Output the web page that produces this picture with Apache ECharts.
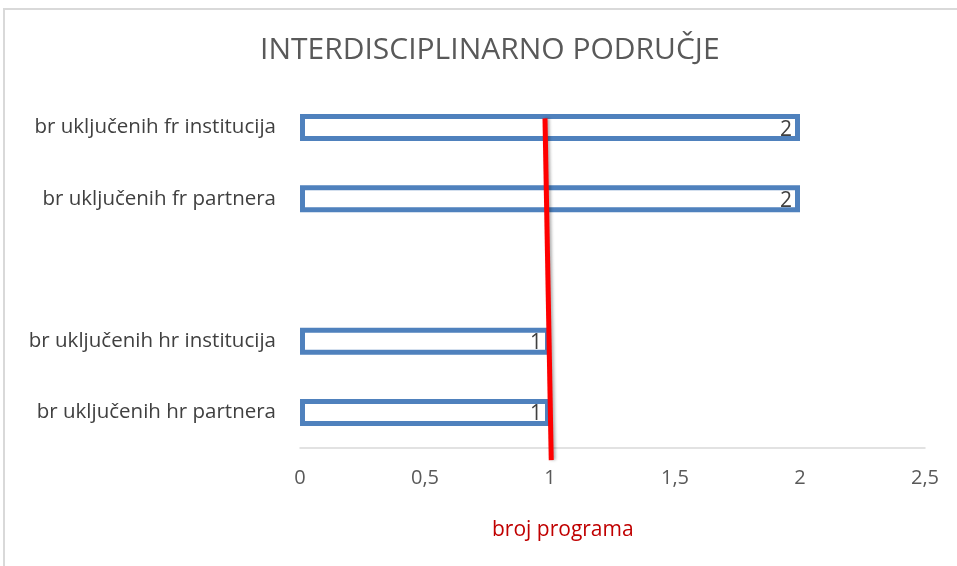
<!DOCTYPE html>
<html>
<head>
<meta charset="utf-8">
<title>Interdisciplinarno područje</title>
<script src="https://cdn.jsdelivr.net/npm/echarts@6/dist/echarts.min.js"></script>
<style>
    html, body { margin: 0; padding: 0; background: #fff; }
    #chart { width: 957px; height: 566px; }
</style>
</head>
<body>
<div id="chart"></div>
<script>
    // kategorije odozdo prema gore (prazna kategorija = razmak)
    var categories = ['br uključenih hr partnera', 'br uključenih hr institucija', '', 'br uključenih fr partnera', 'br uključenih fr institucija'];
    var values = [1, 1, null, 2, 2];
    var xTicks = [0, 0.5, 1, 1.5, 2, 2.5];
    // ručno nacrtana crvena linija (x u broju programa, y u indeksu kategorije)
    var redLineX = [0.98, 1.005];
    var redLineY = [4.63, -0.17];

    var chart = echarts.init(document.getElementById('chart'));

    var option = {
        backgroundColor: '#fff',
        animation: false,
        title: [
            {
                text: 'INTERDISCIPLINARNO PODRUČJE',
                left: 255,
                top: 30,
                textStyle: { fontFamily: 'Open Sans', fontSize: 30, fontWeight: 'normal', color: '#595959' }
            },
            {
                text: 'broj programa',
                left: 487,
                top: 515,
                textStyle: { fontFamily: 'Open Sans', fontSize: 21, fontWeight: 'normal', color: '#C00000' }
            }
        ],
        graphic: [
            {
                type: 'rect',
                shape: { x: 4, y: 9, width: 1000, height: 600 },
                style: { fill: 'none', stroke: '#D9D9D9', lineWidth: 2 },
                silent: true
            }
        ],
        grid: { left: 300, right: 32, top: 92, bottom: 118, containLabel: false },
        xAxis: {
            type: 'value',
            min: xTicks[0],
            max: xTicks[xTicks.length - 1],
            interval: 0.5,
            axisLine: { show: true, lineStyle: { color: '#D9D9D9', width: 1.5 } },
            axisTick: { show: false },
            splitLine: { show: false },
            axisLabel: {
                margin: 20,
                fontFamily: 'Open Sans',
                fontSize: 20,
                color: '#595959',
                formatter: function (v) { return String(v).replace('.', ','); }
            }
        },
        yAxis: [
            {
                type: 'category',
                data: categories,
                axisLine: { show: false },
                axisTick: { show: false },
                axisLabel: { margin: 24, fontFamily: 'Open Sans', fontSize: 20.5, color: '#404040' }
            },
            {
                type: 'value',
                min: 0,
                max: categories.length,
                show: false
            }
        ],
        series: [
            {
                name: 'broj programa',
                type: 'bar',
                data: values,
                barWidth: 27,
                itemStyle: { color: '#fff', borderColor: '#4F81BD', borderWidth: 5 },
                label: {
                    show: true,
                    position: 'insideRight',
                    distance: 8,
                    offset: [0, 2],
                    fontFamily: 'Open Sans',
                    fontSize: 21,
                    color: '#404040'
                }
            },
            {
                type: 'line',
                yAxisIndex: 1,
                clip: false,
                symbol: 'none',
                data: redLineX.map(function (x, i) { return [x, redLineY[i]]; }),
                lineStyle: {
                    color: '#FF0000',
                    width: 5,
                    shadowColor: 'rgba(0,0,0,0.3)',
                    shadowBlur: 3,
                    shadowOffsetX: 2
                },
                z: 5
            }
        ]
    };

    chart.setOption(option);
    window.addEventListener('resize', function () {
        chart.resize();
    });
</script>
</body>
</html>
